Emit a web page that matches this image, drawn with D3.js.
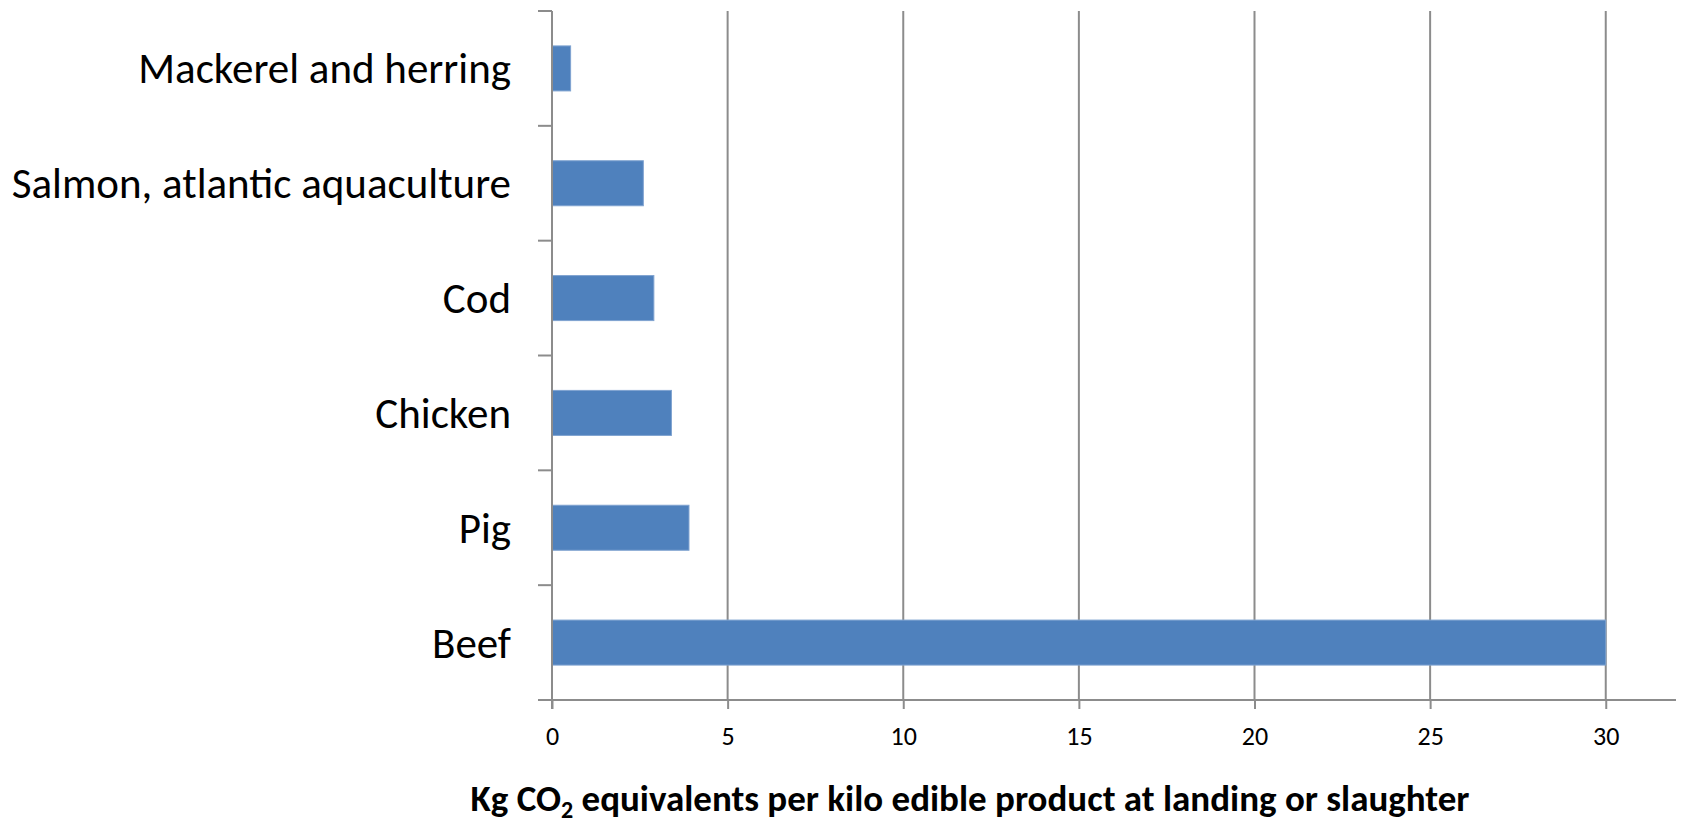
<!DOCTYPE html>
<html>
<head>
<meta charset="utf-8">
<script src="https://cdn.jsdelivr.net/npm/d3@7"></script>
<style>
  body { margin: 0; background: #fff; }
  svg { display: block; }
  .cat text { font-family: Calibri, Carlito, Lato, sans-serif; }
</style>
</head>
<body>
<svg id="chart" width="1683" height="827"></svg>
<script>
// datos del grafico (de arriba hacia abajo)
const categories = ["Mackerel and herring", "Salmon, atlantic aquaculture", "Cod", "Chicken", "Pig", "Beef"];
const values = [0.53, 2.6, 2.9, 3.4, 3.9, 30];
const xTicks = [0, 5, 10, 15, 20, 25, 30];
const xMax = 32;

const svg = d3.select("#chart");
const plot = { left: 552, right: 1676, top: 11, bottom: 700 };
const axisColor = "#8c8c8c";

const x = d3.scaleLinear().domain([0, xMax]).range([plot.left, plot.right]);
const y = d3.scaleBand().domain(categories).range([plot.top, plot.bottom])
    .paddingInner(0.608).paddingOuter(0.304);

// lineas de la cuadricula vertical
svg.append("g")
    .selectAll("line")
    .data(xTicks.filter(d => d > 0))
    .join("line")
    .attr("x1", d => x(d)).attr("x2", d => x(d))
    .attr("y1", plot.top).attr("y2", plot.bottom)
    .attr("stroke", axisColor)
    .attr("stroke-width", 2);

// barras
svg.append("g")
    .selectAll("rect")
    .data(categories)
    .join("rect")
    .attr("x", x(0))
    .attr("y", d => y(d))
    .attr("width", (d, i) => x(values[i]) - x(0))
    .attr("height", y.bandwidth())
    .attr("fill", "#4f81bd")
    .attr("stroke", "#7fa3d0")
    .attr("stroke-width", 1);

// eje x
const xAxis = svg.append("g")
    .attr("transform", `translate(0,${plot.bottom})`)
    .call(d3.axisBottom(x).tickValues(xTicks).tickSize(9).tickPadding(18).tickSizeOuter(0));
xAxis.select(".domain").remove();
xAxis.append("line")
    .attr("x1", plot.left - 14).attr("x2", plot.right)
    .attr("stroke", axisColor).attr("stroke-width", 2);
xAxis.selectAll(".tick line").attr("stroke", axisColor).attr("stroke-width", 2);
xAxis.selectAll(".tick text")
    .attr("fill", "#000")
    .style("font-family", "Calibri, Carlito, Lato, sans-serif")
    .style("font-size", "26px");

// eje y con marcas en los limites de cada banda
const yAxis = svg.append("g").attr("class", "cat");
yAxis.append("line")
    .attr("x1", plot.left).attr("x2", plot.left)
    .attr("y1", plot.top).attr("y2", plot.bottom + 9)
    .attr("stroke", axisColor).attr("stroke-width", 2);
yAxis.selectAll("line.bt")
    .data(d3.range(categories.length))
    .join("line")
    .attr("class", "bt")
    .attr("x1", plot.left - 14).attr("x2", plot.left)
    .attr("y1", i => plot.top + i * y.step())
    .attr("y2", i => plot.top + i * y.step())
    .attr("stroke", axisColor).attr("stroke-width", 2);
yAxis.selectAll("text")
    .data(categories)
    .join("text")
    .attr("x", plot.left - 41)
    .attr("y", d => y(d) + y.bandwidth() / 2)
    .attr("dy", "0.35em")
    .attr("text-anchor", "end")
    .style("font-size", "43px")
    .attr("fill", "#000")
    .text(d => d);

// titulo del eje
const title = svg.append("text")
    .attr("x", 970)
    .attr("y", 811)
    .attr("text-anchor", "middle")
    .style("font-family", "Calibri, Carlito, Lato, sans-serif")
    .style("font-weight", "bold")
    .style("font-size", "37px")
    .attr("fill", "#000");
title.append("tspan").text("Kg CO");
title.append("tspan").attr("dy", 7).style("font-size", "24px").text("2");
title.append("tspan").attr("dy", -7).text(" equivalents per kilo edible product at landing or slaughter");
</script>
</body>
</html>
